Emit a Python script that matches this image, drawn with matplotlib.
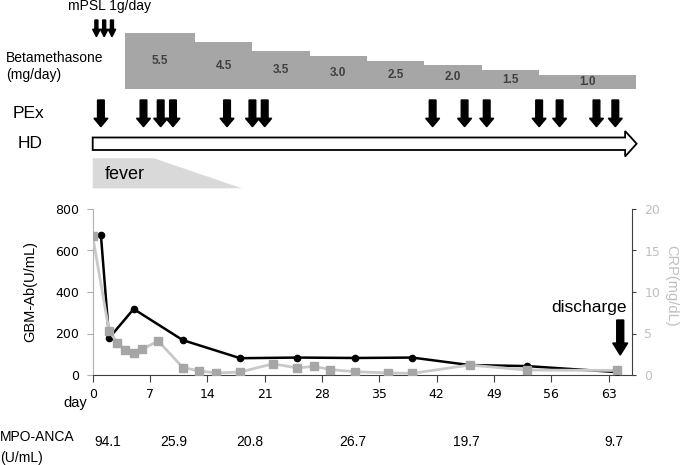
import matplotlib
matplotlib.use("Agg")
import matplotlib.pyplot as plt
from matplotlib.patches import Polygon
from matplotlib.transforms import blended_transform_factory

plt.rcParams['font.family'] = ['Liberation Sans', 'DejaVu Sans']

# lab data
gbm_days = [1, 2, 5, 11, 18, 25, 32, 39, 46, 53, 64]
gbm = [675, 178, 318, 168, 81, 84, 82, 84, 48, 43, 14]

crp_days = [0, 2, 3, 4, 5, 6, 8, 11, 13, 15, 18, 22, 25, 27, 29, 32, 36, 39, 46, 53, 64]
crp = [16.7, 5.3, 3.9, 3.0, 2.7, 3.1, 4.1, 0.9, 0.5, 0.25, 0.35, 1.35, 0.85, 1.05, 0.65,
       0.4, 0.25, 0.2, 1.2, 0.6, 0.55]

mpo_days = [1.8, 9.9, 19.2, 31.8, 45.6, 63.6]
mpo = ['94.1', '25.9', '20.8', '26.7', '19.7', '9.7']

# treatment timeline
mpsl_days = [0.45, 1.4, 2.35]
beta_start = [4, 12.5, 19.5, 26.5, 33.5, 40.5, 47.5, 54.5]
beta_end = 66.3
beta_dose = [5.5, 4.5, 3.5, 3.0, 2.5, 2.0, 1.5, 1.0]
pex_days = [1, 6.2, 8.3, 9.8, 16.4, 19.5, 21, 41.5, 45.4, 48.1, 54.5, 57, 61.5, 63.8]
hd_start, hd_end = 0, 66.4
fever_days = [0, 7.5, 18.2]   # start, plateau end, fade end
discharge_day = 64.4

W, H = 685, 465
XMAX = 65.8
fig = plt.figure(figsize=(W / 100, H / 100), dpi=100)

ax_l, ax_r = 92.7, 631.7
ax = fig.add_axes([ax_l / W, 90 / H, (ax_r - ax_l) / W, 166 / H])
ppd = (ax_r - ax_l) / XMAX   # pixels per day


def arrow_down(a, x, y_top, y_neck, y_tip, shaft, head, **kw):
    s, h = shaft / ppd / 2, head / ppd / 2
    pts = [(x - s, y_top), (x + s, y_top), (x + s, y_neck), (x + h, y_neck),
           (x, y_tip), (x - h, y_neck), (x - s, y_neck)]
    a.add_patch(Polygon(pts, closed=True, clip_on=False, **kw))


# ---- main chart
ax.plot(gbm_days, gbm, color='black', lw=1.8, marker='o', ms=4.5, zorder=3)
ax.set_xlim(0, XMAX)
ax.set_ylim(0, 800)
ax.set_xticks(range(0, 64, 7))
ax.set_yticks(range(0, 801, 200))
ax.spines['top'].set_visible(False)
ax.spines['right'].set_visible(False)
ax.spines['left'].set_color('#b0b0b0')
ax.spines['bottom'].set_color('#404040')
ax.tick_params(axis='x', length=5, pad=4, labelsize=9, color='#404040')
ax.tick_params(axis='y', length=4, pad=6, labelsize=9, color='#b0b0b0')
for lb in ax.get_xticklabels() + ax.get_yticklabels():
    lb.set_family('DejaVu Sans')
ax.set_ylabel('GBM-Ab(U/mL)', fontsize=10.5)
ax.yaxis.set_label_coords(-0.103, 0.5)

ax2 = ax.twinx()
ax2.plot(crp_days, crp, color='#c8c8c8', lw=2, marker='s', ms=5.5,
         mfc='#a6a6a6', mec='#a6a6a6', zorder=2)
ax2.set_ylim(0, 20)
ax2.set_yticks(range(0, 21, 5))
for s in ['top', 'left', 'bottom']:
    ax2.spines[s].set_visible(False)
ax2.spines['right'].set_color('#404040')
ax2.tick_params(axis='y', length=3, pad=6, labelsize=9, labelcolor='#bfbfbf', color='#404040')
for lb in ax2.get_yticklabels():
    lb.set_family('DejaVu Sans')
ax2.set_ylabel('CRP(mg/dL)', fontsize=10.5, color='#bfbfbf', rotation=270)
ax2.yaxis.set_label_coords(1.086, 0.54)

# discharge marker
ax.text(65.2, 323, 'discharge', fontsize=12.5, ha='right', va='center')
arrow_down(ax, discharge_day, 265, 154, 96, 7, 15, color='black', zorder=5)

fig.text(75 / W, 1 - 403 / H, 'day', fontsize=10.5, ha='center', va='center')
fig.text(0, 1 - 436.7 / H, 'MPO-ANCA', fontsize=10, ha='left', va='center')
fig.text(0, 1 - 457.7 / H, '(U/mL)', fontsize=10, ha='left', va='center')
tr = blended_transform_factory(ax.transData, fig.transFigure)
for d, v in zip(mpo_days, mpo):
    ax.text(d, 1 - 442 / H, v, transform=tr, fontsize=10, ha='center', va='center')

# ---- treatment timeline (y in pixel rows from top)
top = fig.add_axes([ax_l / W, 1 - 200 / H, (ax_r - ax_l) / W, 200 / H])
top.set_xlim(0, XMAX)
top.set_ylim(200, 0)
top.axis('off')

fig.text(68 / W, 1 - 6 / H, 'mPSL 1g/day', fontsize=10, ha='left', va='center')
for d in mpsl_days:
    arrow_down(top, d, 20, 29.3, 36.7, 3, 7.5, color='black')

fig.text(6 / W, 1 - 58 / H, 'Betamethasone', fontsize=10, ha='left', va='center')
fig.text(6 / W, 1 - 75 / H, '(mg/day)', fontsize=10, ha='left', va='center')
beta_base = 89.3
widths = [b - a for a, b in zip(beta_start, beta_start[1:] + [beta_end])]
heights = [5.4 + 9.33 * d for d in beta_dose]
top.bar(beta_start, [-h for h in heights], width=widths, bottom=beta_base,
        align='edge', color='#a6a6a6', lw=0, clip_on=False)
for a, w, h, d in zip(beta_start, widths, heights, beta_dose):
    top.text(a + w / 2, beta_base - h / 2, f'{d:.1f}', fontsize=8.5, fontweight='bold',
             color='#404040', ha='center', va='center', clip_on=False)

fig.text(13 / W, 1 - 114 / H, 'PEx', fontsize=12.5, ha='left', va='center')
for d in pex_days:
    arrow_down(top, d, 100, 118.3, 126.7, 6.7, 14, color='black')

fig.text(18 / W, 1 - 143.5 / H, 'HD', fontsize=12.5, ha='left', va='center')
neck = hd_end - 11.5 / ppd
hd = [(hd_start, 137.5), (neck, 137.5), (neck, 131), (hd_end, 143.7),
      (neck, 156.5), (neck, 150), (hd_start, 150)]
top.add_patch(Polygon(hd, closed=True, fc='white', ec='black', lw=1.3, clip_on=False))

f0, f1, f2 = fever_days
top.add_patch(Polygon([(f0, 158.3), (f1, 158.3), (f2, 188.3), (f0, 188.3)],
                      closed=True, fc='#d9d9d9', ec='none', clip_on=False))
top.text(f0 + 3.9, 174, 'fever', fontsize=13, ha='center', va='center')

fig.savefig('out.png', dpi=100)
